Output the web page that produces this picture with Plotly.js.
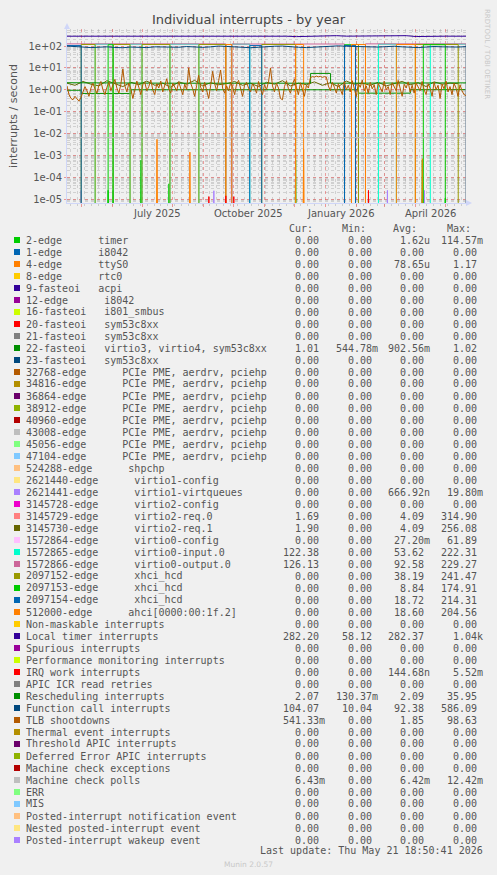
<!DOCTYPE html>
<html><head><meta charset="utf-8">
<script src="https://cdn.plot.ly/plotly-3.0.1.min.js"></script>
<style>html,body{margin:0;padding:0;background:#F0F0F0;}#chart{width:497px;height:875px;}</style>
</head><body><div id="chart"></div>
<script>
// ---------------- data ----------------
const START = '2025-04-16 18:50', END = '2026-05-21 18:50';

// legend table
const names = [
 '2-edge      timer','1-edge      i8042','4-edge      ttyS0','8-edge      rtc0','9-fasteoi   acpi',
 '12-edge      i8042','16-fasteoi   i801_smbus','20-fasteoi   sym53c8xx','21-fasteoi   sym53c8xx',
 '22-fasteoi   virtio3, virtio4, sym53c8xx','23-fasteoi   sym53c8xx',
 '32768-edge      PCIe PME, aerdrv, pciehp','34816-edge      PCIe PME, aerdrv, pciehp',
 '36864-edge      PCIe PME, aerdrv, pciehp','38912-edge      PCIe PME, aerdrv, pciehp',
 '40960-edge      PCIe PME, aerdrv, pciehp','43008-edge      PCIe PME, aerdrv, pciehp',
 '45056-edge      PCIe PME, aerdrv, pciehp','47104-edge      PCIe PME, aerdrv, pciehp',
 '524288-edge      shpchp','2621440-edge      virtio1-config','2621441-edge      virtio1-virtqueues',
 '3145728-edge      virtio2-config','3145729-edge      virtio2-req.0','3145730-edge      virtio2-req.1',
 '1572864-edge      virtio0-config','1572865-edge      virtio0-input.0','1572866-edge      virtio0-output.0',
 '2097152-edge      xhci_hcd','2097153-edge      xhci_hcd','2097154-edge      xhci_hcd',
 '512000-edge      ahci[0000:00:1f.2]','Non-maskable interrupts','Local timer interrupts',
 'Spurious interrupts','Performance monitoring interrupts','IRQ work interrupts','APIC ICR read retries',
 'Rescheduling interrupts','Function call interrupts','TLB shootdowns','Thermal event interrupts',
 'Threshold APIC interrupts','Deferred Error APIC interrupts','Machine check exceptions',
 'Machine check polls','ERR','MIS','Posted-interrupt notification event',
 'Nested posted-interrupt event','Posted-interrupt wakeup event'];
const palette = ['#00CC00','#0066B3','#FF8000','#FFCC00','#330099','#990099','#CCFF00','#FF0000','#808080',
 '#008F00','#00487D','#B35A00','#B38F00','#6B006B','#8FB300','#B30000','#BEBEBE','#80FF80','#80C9FF',
 '#FFC080','#FFE680','#AA80FF','#EE00CC','#FF8080','#666600','#FFBFFF','#00FFCC','#CC6699','#999900'];
const Z = '0.00 ';
const curCol = [Z,Z,Z,Z,Z,Z,Z,Z,Z,'1.01 ',Z,Z,Z,Z,Z,Z,Z,Z,Z,Z,Z,Z,Z,'1.69 ','1.90 ',Z,'122.38 ','126.13 ',Z,Z,Z,Z,Z,
 '282.20 ',Z,Z,Z,Z,'2.07 ','104.07 ','541.33m',Z,Z,Z,Z,'6.43m',Z,Z,Z,Z,Z];
const minCol = [Z,Z,Z,Z,Z,Z,Z,Z,Z,'544.78m',Z,Z,Z,Z,Z,Z,Z,Z,Z,Z,Z,Z,Z,Z,Z,Z,Z,Z,Z,Z,Z,Z,Z,
 '58.12 ',Z,Z,Z,Z,'130.37m','10.04 ',Z,Z,Z,Z,Z,Z,Z,Z,Z,Z,Z];
const avgCol = ['1.62u',Z,'78.65u',Z,Z,Z,Z,Z,Z,'902.56m',Z,Z,Z,Z,Z,Z,Z,Z,Z,Z,Z,'666.92n',Z,'4.09 ','4.09 ','27.20m',
 '53.62 ','92.58 ','38.19 ','8.84 ','18.72 ','18.60 ',Z,'282.37 ',Z,Z,'144.68n',Z,'2.09 ','92.38 ','1.85 ',
 Z,Z,Z,Z,'6.42m',Z,Z,Z,Z,Z];
const maxCol = ['114.57m',Z,'1.17 ',Z,Z,Z,Z,Z,Z,'1.02 ',Z,Z,Z,Z,Z,Z,Z,Z,Z,Z,Z,'19.80m',Z,'314.90 ','256.08 ','61.89 ',
 '222.31 ','229.27 ','241.47 ','174.91 ','214.31 ','204.56 ',Z,'1.04k',Z,Z,'5.52m',Z,'35.95 ','586.09 ','98.63 ',
 Z,Z,Z,Z,'12.42m',Z,Z,Z,Z,Z];

// top band: periods each device was active (start, end) and its level
const outputOn = [['2025-04-16','2025-09-23'],['2025-09-29','2026-01-20'],['2026-02-10',END]];
const outputLvl = [126, 124, 126];
const inputOn = [['2025-05-15','2025-06-02'],['2025-06-19','2025-07-01'],['2025-07-29','2025-08-27'],
 ['2025-09-29','2025-10-17'],['2026-02-23','2026-03-13'],['2026-04-16',END]];
const inputLvl = [122,122,122,122,122,122];
const xhci0On = [['2025-05-01','2025-05-15'],['2025-06-02','2025-06-19'],['2025-07-01','2025-07-29'],
 ['2025-08-27','2025-09-23'],['2025-10-29','2025-12-02'],['2026-01-31','2026-02-03'],['2026-04-01','2026-05-14']];
const xhci0Lvl = [118,118,118,118,118,118,118];
const xhci1On = [['2025-05-28','2025-06-02'],['2026-01-20','2026-01-27'],['2026-04-09','2026-05-01']];
const xhci1Lvl = [115,115,115];
const xhci2On = [['2025-04-16','2025-05-01'],['2025-10-17','2025-10-29'],['2026-01-20','2026-01-31']];
const xhci2Lvl = [105,105,105];
const ahciOn = [['2025-09-23','2025-09-29'],['2025-12-02','2025-12-10'],['2026-01-27','2026-02-10'],['2026-03-13','2026-04-01']];
const ahciLvl = [118,118,118,118];

// spikes
const timerDates = ['2025-05-28','2025-06-02','2025-06-30','2025-07-28','2025-12-02','2026-04-08','2026-05-01'];
const timerVals = [2.5e-5,2.5e-5,6e-4,5e-5,6e-4,6e-4,1.1e-5];
const ttyDates = ['2025-07-16','2025-08-18','2025-12-10','2026-04-08'];
const ttyVals = [5.4e-3,1.4e-3,1.9e-3,7e-4];
const irqwDates = ['2025-09-06','2025-09-23','2025-10-01','2026-02-13'];
const irqwVals = [1.3e-5,1.4e-5,1.3e-5,2.5e-5];
const vqDates = ['2025-05-01','2025-09-11','2026-03-04','2026-04-10'];
const vqVals = [2.5e-5,2.4e-5,2.5e-5,2.5e-5];
const cfgDates = ['2025-09-29'];
const cfgVals = [60];

// slowly varying series
const every2 = Array.from({length:201},(_,i)=>i*2);
const every8 = Array.from({length:51},(_,i)=>i*8);
const every10 = Array.from({length:41},(_,i)=>i*10);
const tlbVals = [
 1.5,0.6,0.4,0.35,0.5,0.4,0.3,0.45,0.8,1.4,0.9,0.5,1.2,2.0,1.1,0.7,1.6,2.4,1.0,0.6,1.3,
 2.2,0.9,1.5,3.0,1.2,0.7,1.8,9.0,1.5,0.8,2.0,1.1,0.4,0.9,2.5,1.3,0.6,1.7,2.2,0.9,
 1.4,2.8,1.0,0.6,1.9,1.2,2.5,0.8,1.5,3.2,1.1,0.7,2.0,1.4,0.9,2.3,1.2,0.6,1.8,1.0,
 10,2.0,1.1,0.5,1.6,4.6,1.3,0.8,2.2,1.0,0.4,1.5,7.0,1.9,0.9,2.6,8.0,1.2,0.7,1.5,
 0.9,2.1,1.4,0.6,1.8,2.7,1.0,0.5,1.6,2.2,1.2,0.8,1.9,1.3,0.7,2.4,1.1,0.6,1.7,1.0,
 2.3,10,1.5,0.8,2.0,1.2,0.4,0.35,1.4,2.6,1.1,0.7,1.8,3.0,1.3,0.6,2.1,1.0,0.5,1.6,
 1.2,3.6,4.0,3.8,4.2,3.9,4.1,3.7,4.0,3.8,1.5,0.9,2.2,1.3,0.7,1.9,1.1,0.6,2.4,1.0,
 1.6,0.8,2.6,1.2,0.5,1.9,1.3,2.8,0.9,1.5,0.7,2.2,1.1,1.7,0.6,2.0,1.2,0.8,2.5,1.0,
 1.4,0.6,2.1,1.3,0.9,2.7,1.1,0.5,1.8,1.2,2.3,0.8,1.6,0.7,2.0,1.3,0.9,2.4,1.0,0.6,
 1.9,1.2,0.5,2.2,1.0,1.6,0.4,1.8,1.1,2.5,0.8,1.4,0.6,2.0,1.2,0.5,1.7,0.9,0.6,0.54];
const req1Vals = [2.0,1.6,2.4,1.8,1.5,2.6,1.9,1.4,2.2,1.7, 2.5,1.6,2.0,1.3,2.3,1.8,2.7,1.5,2.1,1.7,
 1.9,2.4,1.6,2.0,1.4,2.2,1.8,2.6,1.5,2.0, 1.7,2.3,1.6,2.1,1.4,2.5,1.8,2.0,1.6,2.2,
 1.5,1.9,2.4,1.7,2.1,1.4,2.3,1.8,2.0,1.9];
const funcVals = [100,98,90,85,88,92,86,84,90,88,85,92,90,86,88,95,90,87,92,100,96,90,86,84,88,95,98,100,
 92,88,85,90,96,100,102,98,95,90,86,90,94,98,92,88,85,90,95,92,88,90,94];
const ltimerVals = [282,282,283,282,281,282,282,283,282,282,282,281,282,282,283,282,296,290,282,282,281,282,
 282,270,282,283,300,298,283,282,282,282,283,300,298,272,282,282,283,282,282];
const reschedDates = ['2025-04-16','2025-06-01','2025-08-01','2025-10-01','2025-12-17','2025-12-17','2026-01-06',
 '2026-01-06','2026-03-01','2026-05-21 18:50'];
const reschedVals = [2.1,2.0,2.0,2.0,2.0,5.6,5.6,2.0,2.0,2.07];
const virtio3Dates = ['2025-04-16','2025-05-01','2025-05-01','2025-06-20','2025-06-20','2026-02-03','2026-02-03',
 '2026-03-27','2026-03-27','2026-05-21 18:50'];
const virtio3Vals = [0.95,0.95,0.68,0.68,1.0,1.0,0.7,0.7,1.0,1.01];
const mcpVals = [6.42e-3,6.42e-3];

// ---------------- helpers ----------------
const DAY = 86400000;
const t0 = Date.parse('2025-04-16T18:50:00Z');
function dOff(n){ return new Date(t0 + n*DAY).toISOString().slice(0,16).replace('T',' '); }
function shiftDate(s, n){ const t = Date.parse(s.length>10 ? s.replace(' ','T')+':00Z' : s+'T00:00:00Z'); return new Date(t+n*DAY).toISOString().slice(0,16).replace('T',' '); }
const ZERO = 1e-9; // a zero value falls to -inf on the log axis, as in rrdtool
const col = i => palette[i % palette.length];
function line(x, y, i){ return {x, y:y.map(v=>v>0?v:ZERO), type:'scatter', mode:'lines', line:{color:col(i), width:1}, hoverinfo:'skip', showlegend:false}; }
function steps(on, lvl, i){ const x=[],y=[]; on.forEach((s,k)=>{x.push(s[0],s[0],s[1],s[1]); y.push(0,lvl[k],lvl[k],0);}); return line(x,y,i); }
function spikes(dates, vals, i){ const x=[],y=[]; dates.forEach((d,k)=>{x.push(shiftDate(d,-1),d,shiftDate(d,1)); y.push(0,vals[k],0);}); return line(x,y,i); }

const traces = [
 spikes(timerDates, timerVals, 0),
 spikes(ttyDates, ttyVals, 2),
 line(virtio3Dates, virtio3Vals, 9),
 spikes(vqDates, vqVals, 21),
 line(every8.map(dOff), req1Vals, 24),
 spikes(cfgDates, cfgVals, 25),
 steps(inputOn, inputLvl, 26),
 steps(outputOn, outputLvl, 27),
 steps(xhci0On, xhci0Lvl, 28),
 steps(xhci1On, xhci1Lvl, 29),
 steps(xhci2On, xhci2Lvl, 30),
 steps(ahciOn, ahciLvl, 31),
 line(every10.map(dOff), ltimerVals, 33),
 spikes(irqwDates, irqwVals, 36),
 line(reschedDates, reschedVals, 38),
 line(every8.map(dOff), funcVals, 39),
 line(every2.map(dOff), tlbVals, 40),
 line([START, END], mcpVals, 45)
];

// ---------------- layout ----------------
const W=497, H=875, L=67, R=466, T=29, B=203;
const pw=R-L, ph=B-T;
const px = x => (x-L)/pw, py = y => (B-y)/ph;
const mono = {family:'DejaVu Sans Mono', size:10, color:'#555'};
const ann = [], shapes = [];
const rowY = i => 240 + 12*i;
function txt(x, y, text, anchor, font){ ann.push({xref:'paper', yref:'paper', x:px(x), y:py(y), text, showarrow:false,
  xanchor:anchor, yanchor:'middle', font, borderpad:0, borderwidth:0}); }
const nb = s => s.replace(/ /g,'\u00a0');
txt(313,228,'Cur:','right',mono); txt(366,228,'Min:','right',mono); txt(417,228,'Avg:','right',mono); txt(471,228,'Max:','right',mono);
names.forEach((n,i)=>{
  const y=rowY(i);
  shapes.push({type:'rect', xref:'paper', yref:'paper', x0:px(14), x1:px(20), y0:py(y-3), y1:py(y+3), fillcolor:col(i), line:{width:0}});
  txt(26,y,nb(n),'left',mono);
  txt(325,y,nb(curCol[i]),'right',mono);
  txt(378,y,nb(minCol[i]),'right',mono);
  txt(429.5,y,nb(avgCol[i]),'right',mono);
  txt(483,y,nb(maxCol[i]),'right',mono);
});
txt(483,851,nb('Last update: Thu May 21 18:50:41 2026'),'right',mono);
txt(248,864,'Munin 2.0.57','center',{family:'DejaVu Sans', size:7.5, color:'#c8c8c8'});
ann.push({xref:'paper', yref:'paper', x:px(487), y:py(54), text:'RRDTOOL / TOBI OETIKER', textangle:90, showarrow:false,
  xanchor:'center', yanchor:'middle', font:{family:'DejaVu Sans', size:7, color:'#c8c8c8'}});
// x labels (centred mid-month as rrdtool does)
const xLabDates = ['2025-07-16','2025-10-16','2026-01-16','2026-04-16'];
const xLabText = ['July 2025','October 2025','January 2026','April 2026'];
xLabDates.forEach((d,k)=>ann.push({xref:'x', yref:'paper', x:d, y:py(213), text:xLabText[k], showarrow:false,
  xanchor:'center', yanchor:'middle', font:{family:'DejaVu Sans', size:10, color:'#555'}}));
// axis arrows
shapes.push({type:'path', xref:'paper', yref:'paper', path:`M ${px(466)} ${py(200)} L ${px(472)} ${py(203)} L ${px(466)} ${py(206)} Z`, fillcolor:'#CFD6F8', line:{width:0}});
shapes.push({type:'path', xref:'paper', yref:'paper', path:`M ${px(64)} ${py(29)} L ${px(67)} ${py(23)} L ${px(70)} ${py(29)} Z`, fillcolor:'#CFD6F8', line:{width:0}});

const monthStarts = ['2025-05-01','2025-06-01','2025-07-01','2025-08-01','2025-09-01','2025-10-01','2025-11-01',
 '2025-12-01','2026-01-01','2026-02-01','2026-03-01','2026-04-01','2026-05-01'];
const decades = [1e-5,1e-4,1e-3,1e-2,1e-1,1,10,100];
const decadeText = ['1e-05','1e-04','1e-03','1e-02','1e-01','1e+00','1e+01','1e+02'];

const layout = {
  width:W, height:H, paper_bgcolor:'#F0F0F0', plot_bgcolor:'#F0F0F0',
  margin:{l:L, r:W-R, t:T, b:H-B, pad:0},
  title:{text:'Individual interrupts - by year', font:{family:'DejaVu Sans', size:13, color:'#444'},
    x:0.5, xref:'container', y:1-19/H, yref:'container', yanchor:'middle'},
  xaxis:{type:'date', range:[START, END], tickmode:'array', tickvals:monthStarts, showticklabels:false,
    showgrid:true, gridcolor:'rgba(230,90,90,0.55)', griddash:'dot', gridwidth:1,
    ticks:'outside', ticklen:3, tickcolor:'rgba(230,90,90,0.6)',
    minor:{dtick:7*DAY, tick0:'2025-04-20', showgrid:true, gridcolor:'rgba(150,150,150,0.35)', griddash:'dot', ticks:'outside', ticklen:2, tickcolor:'rgba(150,150,150,0.4)'},
    showline:true, linecolor:'#CFD6F8', linewidth:1, zeroline:false, fixedrange:true},
  yaxis:{type:'log', range:[-5.18, 2.78], tickmode:'array', tickvals:decades, ticktext:decadeText,
    tickfont:{family:'DejaVu Sans', size:10, color:'#555'},
    showgrid:true, gridcolor:'rgba(230,90,90,0.55)', griddash:'dot',
    ticks:'outside', ticklen:2, tickcolor:'rgba(230,90,90,0.6)',
    minor:{dtick:'D1', showgrid:true, gridcolor:'rgba(150,150,150,0.35)', griddash:'dot'},
    showline:true, linecolor:'#CFD6F8', zeroline:false, fixedrange:true,
    title:{text:'interrupts / second', font:{family:'DejaVu Sans', size:11, color:'#555'}, standoff:8}},
  annotations:ann, shapes:shapes, showlegend:false
};
Plotly.newPlot('chart', traces, layout, {staticPlot:true, displayModeBar:false});
</script></body></html>
